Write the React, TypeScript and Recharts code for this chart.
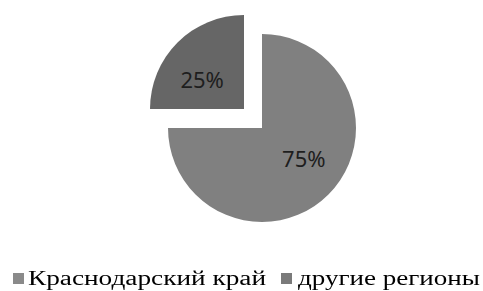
import React from 'react';
import { PieChart, Pie, Cell, Legend } from 'recharts';

const categories = ['Краснодарский край', 'другие регионы'];
const shares = [75, 25];
const colors = ['#808080', '#666666'];
const legendColors = ['#8a8a8a', '#7a7a7a'];

const data = categories.map((name, i) => ({ name, value: shares[i] }));

const RAD = Math.PI / 180;

const makeLabel = (visibleIndex: number) => (props: any) => {
  const { cx, cy, midAngle, outerRadius, index, value } = props;
  if (index !== visibleIndex) return null;
  const r = outerRadius * 0.55;
  const a = (midAngle + 9) * RAD;
  const x = cx + r * Math.cos(a);
  const y = cy - r * Math.sin(a);
  return (
    <text
      x={x}
      y={y}
      textAnchor="middle"
      dominantBaseline="central"
      fill="#1e1e1e"
      fontSize={22}
      fontFamily="'Noto Sans', sans-serif"
    >
      {`${value}%`}
    </text>
  );
};

const legendLayout = [
  { mx: 13, tx: 28, tw: 238 },
  { mx: 281, tx: 298, tw: 182 },
];

const renderLegend = () => (
  <div style={{ position: 'relative', width: 483, height: 30, fontFamily: 'Liberation Serif, serif' }}>
    {categories.map((c, i) => (
      <React.Fragment key={c}>
        <div
          style={{
            position: 'absolute',
            left: legendLayout[i].mx,
            top: 5,
            width: 11,
            height: 11,
            background: legendColors[i],
          }}
        />
        <svg
          width={legendLayout[i].tw + 4}
          height={30}
          style={{ position: 'absolute', left: legendLayout[i].tx, top: 0, overflow: 'visible' }}
        >
          <text
            x={0}
            y={17}
            fontSize={20}
            fontFamily="Liberation Serif"
            fill="#000"
            textLength={legendLayout[i].tw}
            lengthAdjust="spacingAndGlyphs"
          >
            {c}
          </text>
        </svg>
      </React.Fragment>
    ))}
  </div>
);

export default function App() {
  return (
    <div style={{ position: 'fixed', left: 0, top: 0, width: 483, height: 291, background: '#fff' }}>
      <PieChart width={483} height={291} margin={{ top: 0, right: 0, bottom: 0, left: 0 }}>
        <Pie
          data={data}
          dataKey="value"
          nameKey="name"
          cx={262}
          cy={128}
          outerRadius={94}
          startAngle={90}
          endAngle={-270}
          stroke="none"
          isAnimationActive={false}
          label={makeLabel(0)}
          labelLine={false}
          legendType="none"
        >
          {data.map((d, i) => (
            <Cell key={d.name} fill={i === 0 ? colors[0] : 'none'} />
          ))}
        </Pie>
        <Pie
          data={data}
          dataKey="value"
          nameKey="name"
          cx={244}
          cy={109}
          outerRadius={94}
          startAngle={90}
          endAngle={-270}
          stroke="none"
          isAnimationActive={false}
          label={makeLabel(1)}
          labelLine={false}
          legendType="none"
        >
          {data.map((d, i) => (
            <Cell key={d.name} fill={i === 1 ? colors[1] : 'none'} />
          ))}
        </Pie>
        <Legend
          content={renderLegend}
          wrapperStyle={{ position: 'absolute', left: 0, top: 268, width: 483, height: 30 }}
        />
      </PieChart>
    </div>
  );
}
